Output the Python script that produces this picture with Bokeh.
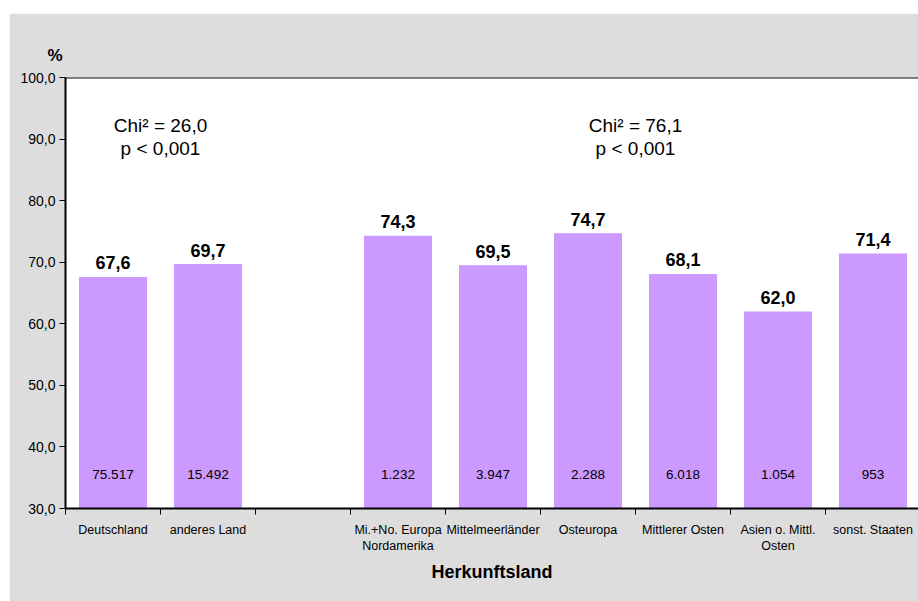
from bokeh.plotting import figure
from bokeh.models import ColumnDataSource, FixedTicker, Span
from bokeh.core.properties import value
from bokeh.embed import file_html
from bokeh.resources import INLINE

categories = ["Deutschland", "anderes Land", "", "Mi.+No. Europa\nNordamerika",
              "Mittelmeerländer", "Osteuropa", "Mittlerer Osten",
              "Asien o. Mittl.\nOsten", "sonst. Staaten"]
percent = [67.6, 69.7, None, 74.3, 69.5, 74.7, 68.1, 62.0, 71.4]
pct_labels = ["67,6", "69,7", "", "74,3", "69,5", "74,7", "68,1", "62,0", "71,4"]
n_labels = ["75.517", "15.492", "", "1.232", "3.947", "2.288", "6.018", "1.054", "953"]
chi_texts = ["Chi² = 26,0", "Chi² = 76,1"]
p_texts = ["p < 0,001", "p < 0,001"]
chi_x = [1.0, 6.0]
y_ticks = [30, 40, 50, 60, 70, 80, 90, 100]
y_tick_labels = ["30,0", "40,0", "50,0", "60,0", "70,0", "80,0", "90,0", "100,0"]

FONT = "Liberation Sans"
BAR = "#CC99FF"
BG = "#DDDDDD"

idx = [i for i, v in enumerate(percent) if v is not None]
src = ColumnDataSource(dict(
    x=[i + 0.5 for i in idx],
    top=[percent[i] for i in idx],
    lab=[pct_labels[i] for i in idx],
    n=[n_labels[i] for i in idx],
    base=[30] * len(idx),
))

p = figure(width=909, height=588, frame_width=853, frame_height=431,
           x_range=(0, 853 / 95), y_range=(30, 100),
           output_backend="svg", toolbar_location=None,
           min_border_left=56, min_border_right=0, min_border_top=64, min_border_bottom=93,
           background_fill_color="white", border_fill_color=BG)
p.margin = (13, 0, 0, 9)
p.outline_line_color = None
p.grid.visible = False

p.title.text = "%"
p.title.align = "left"
p.title.offset = -18
p.title.standoff = 25
p.title.text_font = FONT
p.title.text_font_style = "bold"
p.title.text_font_size = "17px"
p.title.text_color = "black"

p.vbar(x="x", top="top", bottom="base", width=0.716, source=src,
       fill_color=BAR, line_color=None)

p.text(x="x", y="top", text="lab", source=src, text_align="center",
       text_baseline="alphabetic", y_offset=-14, text_font=value(FONT),
       text_font_style="bold", text_font_size="18px", text_color="black")
p.text(x="x", y="base", text="n", source=src, text_align="center",
       text_baseline="middle", y_offset=-34, text_font=value(FONT),
       text_font_size="13.5px", text_color="black")

chi_src = ColumnDataSource(dict(x=chi_x, t=chi_texts, pt=p_texts,
                                y1=[92.2] * 2, y2=[88.5] * 2))
p.text(x="x", y="y1", text="t", source=chi_src, text_align="center",
       text_baseline="middle", text_font=value(FONT), text_font_size="19px",
       text_color="black")
p.text(x="x", y="y2", text="pt", source=chi_src, text_align="center",
       text_baseline="middle", text_font=value(FONT), text_font_size="19px",
       text_color="black")

p.add_layout(Span(location=100, dimension="width", line_color="black", line_width=2))

# y axis
ya = p.yaxis[0]
ya.ticker = FixedTicker(ticks=y_ticks, minor_ticks=[])
ya.major_label_overrides = {t: l for t, l in zip(y_ticks, y_tick_labels)}
ya.major_label_text_font = FONT
ya.major_label_text_font_size = "14px"
ya.major_label_text_color = "black"
ya.major_label_standoff = 4
ya.major_tick_out = 6
ya.major_tick_in = 0
ya.axis_line_width = 2
ya.axis_line_color = "black"
ya.major_tick_line_width = 1

# x axis
xa = p.xaxis[0]
centers = [i + 0.5 for i in range(len(categories))]
xa.ticker = FixedTicker(ticks=centers, minor_ticks=list(range(len(categories) + 1)))
xa.major_label_overrides = {c: l for c, l in zip(centers, categories)}
xa.major_label_text_font = FONT
xa.major_label_text_font_size = "12.5px"
xa.major_label_text_color = "black"
xa.major_label_standoff = 8
xa.major_tick_line_color = None
xa.minor_tick_out = 6
xa.minor_tick_in = 0
xa.minor_tick_line_color = "black"
xa.minor_tick_line_width = 1
xa.axis_line_width = 2
xa.axis_line_color = "black"
xa.axis_label = "Herkunftsland"
xa.axis_label_text_font = FONT
xa.axis_label_text_font_style = "bold"
xa.axis_label_text_font_size = "18px"
xa.axis_label_text_color = "black"
xa.axis_label_standoff = 6

open("out.html", "w").write(file_html(p, INLINE))
